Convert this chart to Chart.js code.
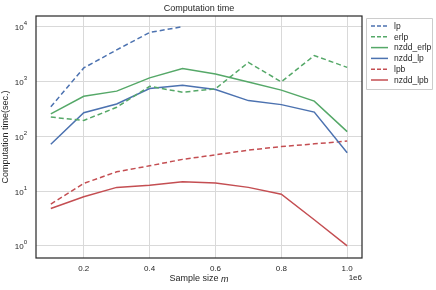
<!DOCTYPE html>
<html>
<head>
<meta charset="utf-8">
<script src="https://cdn.jsdelivr.net/npm/chart.js@4"></script>
<style>
  html, body { margin: 0; padding: 0; background: #fff; }
  #wrap { width: 436px; height: 290px; }
</style>
</head>
<body>
<div id="wrap"><canvas id="timeChart" width="436" height="290"></canvas></div>
<script>
// sample sizes (x1e6)
const sampleSizes = [0.1, 0.2, 0.3, 0.4, 0.5, 0.6, 0.7, 0.8, 0.9, 1.0];
const lpTimes = [347, 1780, 3800, 7900, 10100];
const erlpTimes = [225, 195, 340, 820, 640, 740, 2240, 990, 3000, 1820];
const nzddErlpTimes = [258, 540, 670, 1170, 1730, 1380, 980, 700, 440, 122];
const nzddLpTimes = [72, 270, 390, 750, 860, 715, 450, 380, 277, 50];
const lpbTimes = [5.8, 13.8, 22.5, 29, 38, 46, 56, 65, 73, 82];
const nzddLpbTimes = [4.8, 7.9, 11.7, 12.8, 14.8, 14, 11.7, 8.8, 3.0, 1.0];
const xTicks = [0.2, 0.4, 0.6, 0.8, 1.0];
const yTicks = [1, 10, 100, 1000, 10000];

const BLUE = '#4c72b0', GREEN = '#55a868', RED = '#c44e52';
const FONT = 'Liberation Sans, Arial, sans-serif';

function pts(values) {
    return values.map((v, i) => ({ x: sampleSizes[i], y: v }));
}

const seriesDefs = [
    { label: 'lp', data: lpTimes, color: BLUE, dash: [5, 3] },
    { label: 'erlp', data: erlpTimes, color: GREEN, dash: [5, 3] },
    { label: 'nzdd_erlp', data: nzddErlpTimes, color: GREEN, dash: [] },
    { label: 'nzdd_lp', data: nzddLpTimes, color: BLUE, dash: [] },
    { label: 'lpb', data: lpbTimes, color: RED, dash: [5, 3] },
    { label: 'nzdd_lpb', data: nzddLpbTimes, color: RED, dash: [] }
];

// frame, title, y tick labels, x label, offset text and legend
const decorPlugin = {
    id: 'decor',
    afterDraw(chart) {
        const ctx = chart.ctx;
        const a = chart.chartArea;
        const yScale = chart.scales.y;
        ctx.save();
        ctx.strokeStyle = '#262626';
        ctx.lineWidth = 1.2;
        ctx.strokeRect(a.left, a.top, a.right - a.left, a.bottom - a.top);

        ctx.fillStyle = '#262626';
        ctx.font = '9px ' + FONT;
        ctx.textAlign = 'center';
        ctx.textBaseline = 'middle';
        ctx.fillText('Computation time', (a.left + a.right) / 2, 9);

        // y tick labels as 10 with superscript exponent
        ctx.textBaseline = 'alphabetic';
        yTicks.forEach(v => {
            const y = yScale.getPixelForValue(v);
            const exp = String(Math.round(Math.log10(v)));
            ctx.font = '6px ' + FONT;
            const we = ctx.measureText(exp).width;
            const right = a.left - 9;
            ctx.textAlign = 'right';
            ctx.fillText(exp, right, y - 1.5);
            ctx.font = '8px ' + FONT;
            ctx.fillText('10', right - we, y + 3.5);
        });

        // x title with italic m
        ctx.textBaseline = 'middle';
        const t1 = 'Sample size ';
        ctx.font = '9px ' + FONT;
        const w1 = ctx.measureText(t1).width;
        ctx.font = 'italic 9px ' + FONT;
        const w2 = ctx.measureText('m').width;
        const startX = (a.left + a.right) / 2 - (w1 + w2) / 2;
        ctx.textAlign = 'left';
        ctx.font = '9px ' + FONT;
        ctx.fillText(t1, startX, 279);
        ctx.font = 'italic 9px ' + FONT;
        ctx.fillText('m', startX + w1, 279);

        ctx.font = '8px ' + FONT;
        ctx.textAlign = 'right';
        ctx.fillText('1e6', a.right, 278);

        // legend
        const lx = 366, ly = 18, lw = 66, lh = 71;
        ctx.strokeStyle = '#cccccc';
        ctx.lineWidth = 1;
        ctx.fillStyle = '#ffffff';
        ctx.beginPath();
        ctx.rect(lx + 0.5, ly + 0.5, lw, lh);
        ctx.fill();
        ctx.stroke();
        ctx.font = '8.5px ' + FONT;
        ctx.textAlign = 'left';
        seriesDefs.forEach((s, i) => {
            const y = ly + 8 + i * 10.8;
            ctx.strokeStyle = s.color;
            ctx.lineWidth = 1.5;
            ctx.setLineDash(s.dash.length ? [4, 2] : []);
            ctx.beginPath();
            ctx.moveTo(lx + 5, y);
            ctx.lineTo(lx + 22, y);
            ctx.stroke();
            ctx.setLineDash([]);
            ctx.fillStyle = '#262626';
            ctx.fillText(s.label, lx + 28, y + 0.5);
        });
        ctx.restore();
    }
};

const ctx = document.getElementById('timeChart').getContext('2d');
const timeChart = new Chart(ctx, {
    type: 'line',
    data: {
        datasets: seriesDefs.map(s => ({
            label: s.label,
            data: pts(s.data),
            borderColor: s.color,
            backgroundColor: s.color,
            borderDash: s.dash,
            borderWidth: 1.5,
            pointRadius: 0,
            fill: false,
            tension: 0
        }))
    },
    options: {
        responsive: false,
        animation: false,
        devicePixelRatio: 1,
        layout: {
            padding: { top: 16, right: 74, left: 0, bottom: 0 }
        },
        plugins: {
            legend: { display: false },
            title: { display: false },
            tooltip: { enabled: false }
        },
        scales: {
            x: {
                type: 'linear',
                min: 0.055,
                max: 1.045,
                afterBuildTicks: scale => {
                    scale.ticks = xTicks.map(v => ({ value: v }));
                },
                afterFit: scale => { scale.height = 32; },
                grid: { color: '#d9d9d9', lineWidth: 1, drawTicks: false },
                border: { display: false },
                ticks: {
                    color: '#262626',
                    font: { family: FONT, size: 8 },
                    padding: 6,
                    maxRotation: 0,
                    callback: v => v.toFixed(1)
                }
            },
            y: {
                type: 'logarithmic',
                min: 0.63,
                max: 15800,
                afterBuildTicks: scale => {
                    scale.ticks = yTicks.map(v => ({ value: v }));
                },
                afterFit: scale => { scale.width = 36; },
                grid: { color: '#d9d9d9', lineWidth: 1, drawTicks: false },
                border: { display: false },
                title: {
                    display: true,
                    text: 'Computation time(sec.)',
                    color: '#262626',
                    font: { family: FONT, size: 9 },
                    padding: 0
                },
                ticks: {
                    display: false
                }
            }
        }
    },
    plugins: [decorPlugin]
});
</script>
</body>
</html>
